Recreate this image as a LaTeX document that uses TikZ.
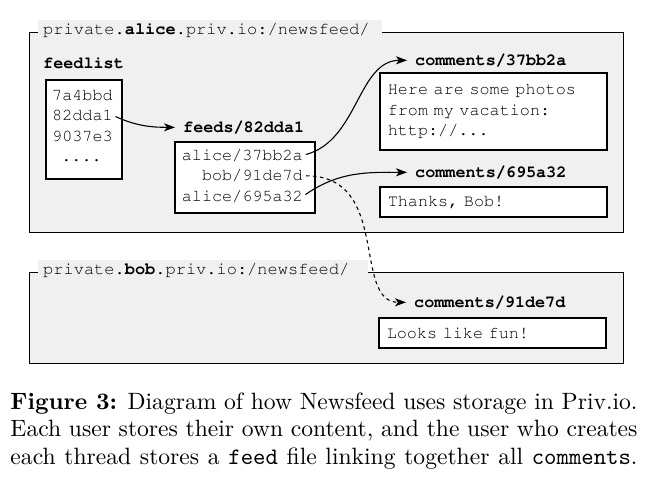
\documentclass[tikz,border=0pt]{standalone}
\usepackage{fontspec}
\newcommand\tyfont{\fontencoding{T1}\fontfamily{pcr}\selectfont}
\usetikzlibrary{arrows.meta}
\tikzstyle{zone}=[draw, fill=gray!12, line width=1.4pt, inner sep=0, anchor=north west]
\tikzstyle{zonelbl}=[fill=gray!12, inner xsep=5pt, inner ysep=0, minimum height=20pt, align=left, anchor=base west, font=\tyfont\fontsize{17}{20.5}\selectfont]
\tikzstyle{filebox}=[draw, fill=white, line width=1.6pt, inner sep=0, anchor=north west]
\tikzstyle{textbox}=[text width=211pt, inner xsep=8pt, align=left, font=\tyfont\fontsize{16.8}{20.5}\selectfont]
\tikzstyle{fname}=[inner sep=0, anchor=base west, font=\tyfont\bfseries\fontsize{16.8}{20.5}\selectfont]
\tikzstyle{row}=[inner sep=0, font=\tyfont\fontsize{16.8}{20.5}\selectfont]
\tikzstyle{link}=[line width=1.1pt, shorten <=3pt, shorten >=8pt, -{Stealth[length=11pt,width=8pt,inset=3pt]}]
\tikzstyle{caption}=[anchor=north west, inner sep=0, scale=2.36, transform shape, text width=265.7pt, align=justify, font=\fontsize{10}{11.65}\selectfont]

\begin{document}
\begin{tikzpicture}[x=1pt,y=1pt]
\useasboundingbox (0,0) rectangle (660,-480);
% the two home folders
\node[zone, minimum width=594pt, minimum height=200pt] (alice) at (29,-32) {};
\node[zone, minimum width=594pt, minimum height=91pt] (bob) at (29,-272) {};
\node[zonelbl, text width=334pt] (alicelbl) at (38,-34) {private.\textbf{alice}.priv.io:/newsfeed/};
\node[zonelbl, text width=320pt] (boblbl) at (38,-274) {private.\textbf{bob}.priv.io:/newsfeed/};
% feedlist
\node[fname] (fllbl) at (43,-68) {feedlist};
\node[filebox, minimum width=76pt, minimum height=99pt] (flbox) at (45,-79) {};
\foreach \t [count=\i] in {7a4bbd,82dda1,9037e3}
	\node[row, anchor=base west] (fl\i) at (52,{-79.5-20.5*\i}) {\t};
\node[row, anchor=base] (fl4) at (81.5,-161.5) {....};
% feed file
\node[fname] (fdlbl) at (183,-132) {feeds/82dda1};
\node[filebox, minimum width=140pt, minimum height=71pt] (fdbox) at (174,-141) {};
\node[row, anchor=base east] (r37) at (303,-160) {alice/37bb2a};
\node[row, anchor=base east] (r91) at (303,-180.5) {bob/91de7d};
\node[row, anchor=base east] (r695) at (303,-201) {alice/695a32};
% comments
\node[fname] (c37lbl) at (415,-65) {comments/37bb2a};
\node[filebox, textbox, minimum height=77pt] (c37) at (379,-72) {Here are some photos\\from my vacation:\\http://...};
\node[fname] (c695lbl) at (415,-177) {comments/695a32};
\node[filebox, textbox, minimum height=30pt] (c695) at (379,-186) {Thanks, Bob!};
\node[fname] (c91lbl) at (414,-307) {comments/91de7d};
\node[filebox, textbox, minimum height=30pt] (c91) at (378,-317) {Looks like fun!};
% links
\draw[link] (fl2.east) to[out=-25, in=180] (fdlbl.west);
\draw[link] (r37.east) to[out=15, in=180] (c37lbl.west);
\draw[link] (r695.east) to[out=35, in=180] (c695lbl.west);
\draw[link, dash pattern=on 3.5pt off 3.5pt] (r91.east) to[out=0, in=180, out looseness=1.35, in looseness=0.95] (c91lbl.west);
% caption
\node[caption] (cap) at (10,-392) {\textbf{Figure 3:} Diagram of how Newsfeed uses storage in Priv.io. Each user stores their own content, and the user who creates each thread stores a \texttt{feed} file linking together all \texttt{comments}.\parfillskip=0pt\par};
\end{tikzpicture}
\end{document}
